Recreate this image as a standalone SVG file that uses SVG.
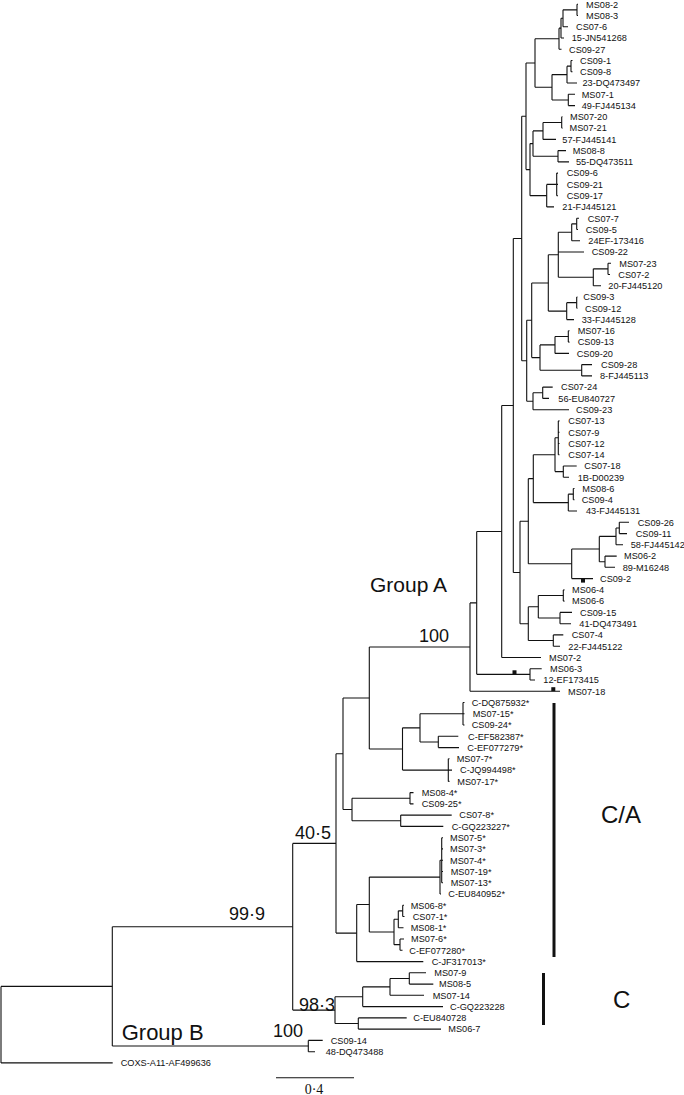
<svg xmlns="http://www.w3.org/2000/svg" width="684" height="1095" viewBox="0 0 684 1095">
<style>
.b{fill:none;stroke:#111;stroke-width:1.1}
.l{font-family:"Liberation Sans",Arial,sans-serif;font-size:9.2px;fill:#111}
.a{font-family:"Liberation Sans",Arial,sans-serif;font-size:18px;fill:#111}
.g{font-family:"Liberation Sans",Arial,sans-serif;font-size:21px;fill:#111}
.k{font-family:"Liberation Sans",Arial,sans-serif;font-size:24px;fill:#111}
.sq{fill:#111}
.bar{stroke:#111;stroke-width:3}
</style>
<rect width="684" height="1095" fill="#fff"/>
<g id="connectors">
<path class="b" d="M577,4.2V15.5M577,4.2H578M577,15.5H578"/>
<path class="b" d="M563,9.85V26.7M563,9.85H577M563,26.7H568"/>
<path class="b" d="M561,18.3V38M561,18.3H563M561,38H564"/>
<path class="b" d="M559,28.15V49.3M559,28.15H561M559,49.3H561.5"/>
<path class="b" d="M571,60.5V71.8M571,60.5H572.5M571,71.8H572.5"/>
<path class="b" d="M567,66.15V83M567,66.15H571M567,83H577"/>
<path class="b" d="M568.3,94.3V105.6M568.3,94.3H575M568.3,105.6H575"/>
<path class="b" d="M552,74.6V99.95M552,74.6H567M552,99.95H568.3"/>
<path class="b" d="M535,38.7V87.3M535,38.7H559M535,87.3H552"/>
<path class="b" d="M561.7,116.8V128.1M561.7,116.8H562.5M561.7,128.1H562.5"/>
<path class="b" d="M543,122.45V139.4M543,122.45H561.7M543,139.4H556"/>
<path class="b" d="M558,150.6V161.9M558,150.6H566M558,161.9H569"/>
<path class="b" d="M533,130.9V156.25M533,130.9H543M533,156.25H558"/>
<path class="b" d="M556.7,173.1V195.7M556.7,173.1H558M556.7,184.4H558M556.7,195.7H558"/>
<path class="b" d="M546.7,184.4V206.9M546.7,184.4H556.7M546.7,206.9H554"/>
<path class="b" d="M530,143.6V195.65M530,143.6H533M530,195.65H546.7"/>
<path class="b" d="M526,63V169.6M526,63H535M526,169.6H530"/>
<path class="b" d="M576.7,218.2V229.5M576.7,218.2H579M576.7,229.5H578"/>
<path class="b" d="M571.7,223.85V240.7M571.7,223.85H576.7M571.7,240.7H580"/>
<path class="b" d="M608,263.2V274.5M608,263.2H611M608,274.5H610"/>
<path class="b" d="M593.3,268.85V285.8M593.3,268.85H608M593.3,285.8H601"/>
<path class="b" d="M558.3,232.3V277.3M558.3,232.3H571.7M558.3,252H584M558.3,277.3H593.3"/>
<path class="b" d="M576.7,297V308.3M576.7,297H577.5M576.7,308.3H577.5"/>
<path class="b" d="M566.7,302.65V319.6M566.7,302.65H576.7M566.7,319.6H574"/>
<path class="b" d="M548.3,254.8V311.1M548.3,254.8H558.3M548.3,311.1H566.7"/>
<path class="b" d="M568.3,330.8V342.1M568.3,330.8H569.5M568.3,342.1H569.5"/>
<path class="b" d="M555,336.45V353.4M555,336.45H568.3M555,353.4H569"/>
<path class="b" d="M581.7,364.6V375.9M581.7,364.6H592M581.7,375.9H592"/>
<path class="b" d="M540,344.9V370.25M540,344.9H555M540,370.25H581.7"/>
<path class="b" d="M531.7,282.95V357.6M531.7,282.95H548.3M531.7,357.6H540"/>
<path class="b" d="M542.7,387.1V398.4M542.7,387.1H552.7M542.7,398.4H549"/>
<path class="b" d="M533,392.75V409.7M533,392.75H542.7M533,409.7H569"/>
<path class="b" d="M526.7,320.3V401.2M526.7,320.3H531.7M526.7,401.2H533"/>
<path class="b" d="M521.7,116.3V360.75M521.7,116.3H526M521.7,360.75H526.7"/>
<path class="b" d="M558.3,420.9V454.7M558.3,420.9H559.5M558.3,432.2H559.5M558.3,443.5H559.5M558.3,454.7H559.5"/>
<path class="b" d="M563.3,466V477.2M563.3,466H576.7M563.3,477.2H569"/>
<path class="b" d="M555,437.8V471.6M555,437.8H558.3M555,471.6H563.3"/>
<path class="b" d="M573.3,488.5V499.8M573.3,488.5H574.5M573.3,499.8H574.5"/>
<path class="b" d="M568.3,494.15V511M568.3,494.15H573.3M568.3,511H577"/>
<path class="b" d="M533.3,454.7V502.6M533.3,454.7H555M533.3,502.6H568.3"/>
<path class="b" d="M619.3,522.3V533.6M619.3,522.3H629M619.3,533.6H627"/>
<path class="b" d="M616,527.95V544.8M616,527.95H619.3M616,544.8H623"/>
<path class="b" d="M605,556.1V567.3M605,556.1H616.7M605,567.3H615"/>
<path class="b" d="M599.3,536.4V561.7M599.3,536.4H616M599.3,561.7H605"/>
<path class="b" d="M571.7,549.05V578.6M571.7,549.05H599.3M571.7,578.6H593"/>
<path class="b" d="M528.3,478.65V563.8M528.3,478.65H533.3M528.3,563.8H571.7"/>
<path class="b" d="M563.3,589.9V601.1M563.3,589.9H564.5M563.3,601.1H564.5"/>
<path class="b" d="M560,612.4V623.7M560,612.4H572M560,623.7H571"/>
<path class="b" d="M538.3,595.5V618.05M538.3,595.5H563.3M538.3,618.05H560"/>
<path class="b" d="M553.3,634.9V646.2M553.3,634.9H563.3M553.3,646.2H560"/>
<path class="b" d="M528.3,606.8V640.55M528.3,606.8H538.3M528.3,640.55H553.3"/>
<path class="b" d="M520,521.2V623.7M520,521.2H528.3M520,623.7H528.3"/>
<path class="b" d="M513.3,238.5V572.45M513.3,238.5H521.7M513.3,572.45H520"/>
<path class="b" d="M501.7,405.5V657.5M501.7,405.5H513.3M501.7,657.5H541"/>
<path class="b" d="M530,668.7V680M530,668.7H541.7M530,680H535"/>
<path class="b" d="M476.7,531.5V674.35M476.7,531.5H501.7M476.7,674.35H530"/>
<path class="b" d="M470,602.9V691.2M470,602.9H476.7M470,691.2H560"/>
<path class="b" d="M463,702.5V725M463,702.5H464.5M463,713.8H464.5M463,725H464.5"/>
<path class="b" d="M438.3,736.3V747.6M438.3,736.3H458.3M438.3,747.6H459"/>
<path class="b" d="M420,713.75V741.95M420,713.75H463M420,741.95H438.3"/>
<path class="b" d="M448.3,758.8V781.4M448.3,758.8H449.5M448.3,770.1H452M448.3,781.4H449.5"/>
<path class="b" d="M402.5,727.85V770.1M402.5,727.85H420M402.5,770.1H448.3"/>
<path class="b" d="M369.3,647.05V748.95M369.3,647.05H470M369.3,748.95H402.5"/>
<path class="b" d="M410,792.6V803.9M410,792.6H413.5M410,803.9H413.5"/>
<path class="b" d="M400.7,815.1V826.4M400.7,815.1H451.7M400.7,826.4H443.3"/>
<path class="b" d="M352,798.25V820.75M352,798.25H410M352,820.75H400.7"/>
<path class="b" d="M343,698V809.5M343,698H369.3M343,809.5H352"/>
<path class="b" d="M441.7,837.7V882.7M441.7,837.7H443M441.7,848.9H443M441.7,860.2H443M441.7,871.5H443M441.7,882.7H443"/>
<path class="b" d="M440,860.2V894M440,860.2H441.7M440,894H441"/>
<path class="b" d="M402.7,905.2V916.5M402.7,905.2H404M402.7,916.5H404.5"/>
<path class="b" d="M398.3,910.85V927.8M398.3,910.85H402.7M398.3,927.8H403.5"/>
<path class="b" d="M400,939V950.3M400,939H404M400,950.3H402.5"/>
<path class="b" d="M394,919.3V944.65M394,919.3H398.3M394,944.65H400"/>
<path class="b" d="M369.3,877.1V932M369.3,877.1H440M369.3,932H394"/>
<path class="b" d="M356.7,904.55V961.6M356.7,904.55H369.3M356.7,961.6H423.3"/>
<path class="b" d="M336,753.75V933.1M336,753.75H343M336,933.1H356.7"/>
<path class="b" d="M409.3,972.8V984.1M409.3,972.8H426M409.3,984.1H433.3"/>
<path class="b" d="M390,978.45V995.3M390,978.45H409.3M390,995.3H424"/>
<path class="b" d="M362.7,986.9V1006.6M362.7,986.9H390M362.7,1006.6H443"/>
<path class="b" d="M358.3,1017.9V1029.1M358.3,1017.9H406.7M358.3,1029.1H441"/>
<path class="b" d="M335,996.75V1023.5M335,996.75H362.7M335,1023.5H358.3"/>
<path class="b" d="M292.7,843.4V1010.1M292.7,843.4H336M292.7,1010.1H335"/>
<path class="b" d="M308.3,1040.4V1051.7M308.3,1040.4H322.7M308.3,1051.7H315"/>
<path class="b" d="M112.3,926.75V1046.05M112.3,926.75H292.7M112.3,1046.05H308.3"/>
<path class="b" d="M1,986.4V1062.9M1,986.4H112.3M1,1062.9H112.7"/>
<rect class="sq" x="512.5" y="670.3" width="4" height="4"/>
<rect class="sq" x="551.3" y="687.2" width="4" height="4"/>
<rect class="sq" x="581" y="578.6" width="4" height="4"/>
</g>
<g id="tips">
<g id="t0"><text class="l" x="586" y="7.5">MS08-2</text></g>
<g id="t1"><text class="l" x="586" y="18.8">MS08-3</text></g>
<g id="t2"><text class="l" x="576" y="30">CS07-6</text></g>
<g id="t3"><text class="l" x="571.7" y="41.3">15-JN541268</text></g>
<g id="t4"><text class="l" x="569" y="52.6">CS09-27</text></g>
<g id="t5"><text class="l" x="580" y="63.8">CS09-1</text></g>
<g id="t6"><text class="l" x="580" y="75.1">CS09-8</text></g>
<g id="t7"><text class="l" x="582.5" y="86.3">23-DQ473497</text></g>
<g id="t8"><text class="l" x="581.7" y="97.6">MS07-1</text></g>
<g id="t9"><text class="l" x="581.7" y="108.9">49-FJ445134</text></g>
<g id="t10"><text class="l" x="570" y="120.1">MS07-20</text></g>
<g id="t11"><text class="l" x="569.5" y="131.4">MS07-21</text></g>
<g id="t12"><text class="l" x="562.3" y="142.7">57-FJ445141</text></g>
<g id="t13"><text class="l" x="572.7" y="153.9">MS08-8</text></g>
<g id="t14"><text class="l" x="576" y="165.2">55-DQ473511</text></g>
<g id="t15"><text class="l" x="566.7" y="176.4">CS09-6</text></g>
<g id="t16"><text class="l" x="566.7" y="187.7">CS09-21</text></g>
<g id="t17"><text class="l" x="566.7" y="199">CS09-17</text></g>
<g id="t18"><text class="l" x="562.3" y="210.2">21-FJ445121</text></g>
<g id="t19"><text class="l" x="587.7" y="221.5">CS07-7</text></g>
<g id="t20"><text class="l" x="585.7" y="232.8">CS09-5</text></g>
<g id="t21"><text class="l" x="588.3" y="244">24EF-173416</text></g>
<g id="t22"><text class="l" x="591.7" y="255.3">CS09-22</text></g>
<g id="t23"><text class="l" x="619.3" y="266.5">MS07-23</text></g>
<g id="t24"><text class="l" x="618.3" y="277.8">CS07-2</text></g>
<g id="t25"><text class="l" x="608.3" y="289.1">20-FJ445120</text></g>
<g id="t26"><text class="l" x="583.3" y="300.3">CS09-3</text></g>
<g id="t27"><text class="l" x="585" y="311.6">CS09-12</text></g>
<g id="t28"><text class="l" x="581.7" y="322.9">33-FJ445128</text></g>
<g id="t29"><text class="l" x="577.7" y="334.1">MS07-16</text></g>
<g id="t30"><text class="l" x="577.7" y="345.4">CS09-13</text></g>
<g id="t31"><text class="l" x="576.7" y="356.7">CS09-20</text></g>
<g id="t32"><text class="l" x="601" y="367.9">CS09-28</text></g>
<g id="t33"><text class="l" x="600" y="379.2">8-FJ445113</text></g>
<g id="t34"><text class="l" x="561" y="390.4">CS07-24</text></g>
<g id="t35"><text class="l" x="558.3" y="401.7">56-EU840727</text></g>
<g id="t36"><text class="l" x="576" y="413">CS09-23</text></g>
<g id="t37"><text class="l" x="568.3" y="424.2">CS07-13</text></g>
<g id="t38"><text class="l" x="568.3" y="435.5">CS07-9</text></g>
<g id="t39"><text class="l" x="568.3" y="446.8">CS07-12</text></g>
<g id="t40"><text class="l" x="568.3" y="458">CS07-14</text></g>
<g id="t41"><text class="l" x="584.3" y="469.3">CS07-18</text></g>
<g id="t42"><text class="l" x="577.7" y="480.5">1B-D00239</text></g>
<g id="t43"><text class="l" x="582.3" y="491.8">MS08-6</text></g>
<g id="t44"><text class="l" x="581.7" y="503.1">CS09-4</text></g>
<g id="t45"><text class="l" x="586" y="514.3">43-FJ445131</text></g>
<g id="t46"><text class="l" x="637.7" y="525.6">CS09-26</text></g>
<g id="t47"><text class="l" x="635.7" y="536.9">CS09-11</text></g>
<g id="t48"><text class="l" x="630.7" y="548.1">58-FJ445142</text></g>
<g id="t49"><text class="l" x="624" y="559.4">MS06-2</text></g>
<g id="t50"><text class="l" x="622.7" y="570.6">89-M16248</text></g>
<g id="t51"><text class="l" x="600" y="581.9">CS09-2</text></g>
<g id="t52"><text class="l" x="572" y="593.2">MS06-4</text></g>
<g id="t53"><text class="l" x="572" y="604.4">MS06-6</text></g>
<g id="t54"><text class="l" x="580" y="615.7">CS09-15</text></g>
<g id="t55"><text class="l" x="579.3" y="627">41-DQ473491</text></g>
<g id="t56"><text class="l" x="571.7" y="638.2">CS07-4</text></g>
<g id="t57"><text class="l" x="568.3" y="649.5">22-FJ445122</text></g>
<g id="t58"><text class="l" x="549" y="660.8">MS07-2</text></g>
<g id="t59"><text class="l" x="550" y="672">MS06-3</text></g>
<g id="t60"><text class="l" x="543.3" y="683.3">12-EF173415</text></g>
<g id="t61"><text class="l" x="568" y="694.5">MS07-18</text></g>
<g id="t62"><text class="l" x="471.7" y="705.8">C-DQ875932*</text></g>
<g id="t63"><text class="l" x="472.7" y="717.1">MS07-15*</text></g>
<g id="t64"><text class="l" x="471.7" y="728.3">CS09-24*</text></g>
<g id="t65"><text class="l" x="468" y="739.6">C-EF582387*</text></g>
<g id="t66"><text class="l" x="467.3" y="750.9">C-EF077279*</text></g>
<g id="t67"><text class="l" x="456.7" y="762.1">MS07-7*</text></g>
<g id="t68"><text class="l" x="460" y="773.4">C-JQ994498*</text></g>
<g id="t69"><text class="l" x="457.3" y="784.7">MS07-17*</text></g>
<g id="t70"><text class="l" x="421.7" y="795.9">MS08-4*</text></g>
<g id="t71"><text class="l" x="421.7" y="807.2">CS09-25*</text></g>
<g id="t72"><text class="l" x="459.3" y="818.4">CS07-8*</text></g>
<g id="t73"><text class="l" x="451.7" y="829.7">C-GQ223227*</text></g>
<g id="t74"><text class="l" x="450" y="841">MS07-5*</text></g>
<g id="t75"><text class="l" x="450" y="852.2">MS07-3*</text></g>
<g id="t76"><text class="l" x="450" y="863.5">MS07-4*</text></g>
<g id="t77"><text class="l" x="450.7" y="874.8">MS07-19*</text></g>
<g id="t78"><text class="l" x="450.7" y="886">MS07-13*</text></g>
<g id="t79"><text class="l" x="448.3" y="897.3">C-EU840952*</text></g>
<g id="t80"><text class="l" x="410.7" y="908.5">MS06-8*</text></g>
<g id="t81"><text class="l" x="412.7" y="919.8">CS07-1*</text></g>
<g id="t82"><text class="l" x="410.7" y="931.1">MS08-1*</text></g>
<g id="t83"><text class="l" x="411" y="942.3">MS07-6*</text></g>
<g id="t84"><text class="l" x="409.3" y="953.6">C-EF077280*</text></g>
<g id="t85"><text class="l" x="431.7" y="964.9">C-JF317013*</text></g>
<g id="t86"><text class="l" x="434.3" y="976.1">MS07-9</text></g>
<g id="t87"><text class="l" x="439" y="987.4">MS08-5</text></g>
<g id="t88"><text class="l" x="432.7" y="998.6">MS07-14</text></g>
<g id="t89"><text class="l" x="450" y="1009.9">C-GQ223228</text></g>
<g id="t90"><text class="l" x="413.3" y="1021.2">C-EU840728</text></g>
<g id="t91"><text class="l" x="448.3" y="1032.4">MS06-7</text></g>
<g id="t92"><text class="l" x="330.7" y="1043.7">CS09-14</text></g>
<g id="t93"><text class="l" x="325.7" y="1055">48-DQ473488</text></g>
<g id="t94"><text class="l" x="120.7" y="1066.2">COXS-A11-AF499636</text></g>
</g>
<g id="annotations">
<text class="g" x="370" y="592">Group A</text>
<text class="a" x="419" y="642">100</text>
<text class="a" x="295" y="839">40·5</text>
<text class="a" x="229" y="920">99·9</text>
<text class="a" x="299" y="1011">98·3</text>
<text class="a" x="273" y="1037">100</text>
<text class="g" x="121.7" y="1040" style="font-size:22px">Group B</text>
<line class="bar" x1="554" y1="703" x2="554" y2="957"/>
<line class="bar" x1="543.5" y1="973" x2="543.5" y2="1025"/>
<text class="k" x="601" y="823">C/A</text>
<text class="k" x="613" y="1008">C</text>
</g>
<g id="scale">
<line x1="276" y1="1077.7" x2="354" y2="1077.7" stroke="#111" stroke-width="1.1"/>
<text x="314" y="1094" text-anchor="middle" style="font-family:'Liberation Serif','Times New Roman',serif;font-size:14px;fill:#111">0·4</text>
</g>
</svg>
